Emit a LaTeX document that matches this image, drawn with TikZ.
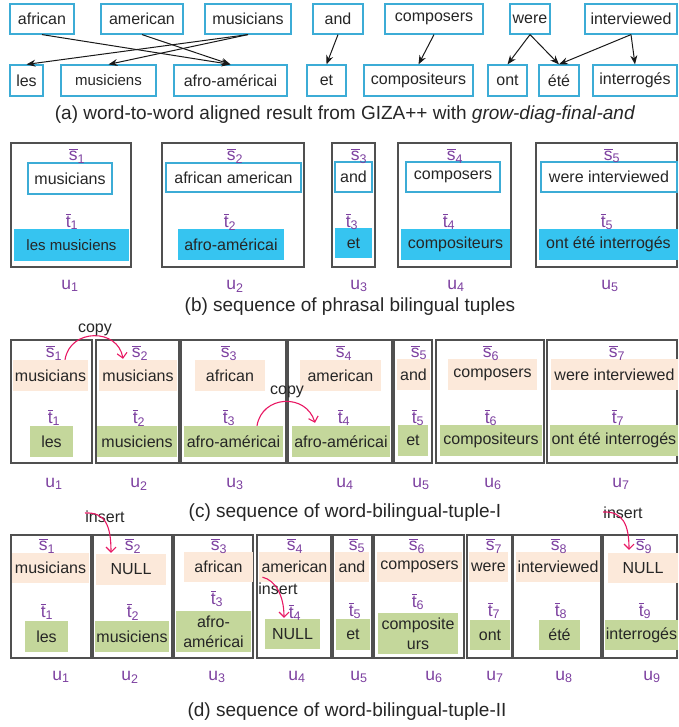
\documentclass[tikz,border=0pt]{standalone}
\usepackage{fontspec}
\setmainfont{Liberation Sans}
\usetikzlibrary{arrows.meta,calc}
\definecolor{bstroke}{RGB}{60,172,214}
\definecolor{cyanfill}{RGB}{54,196,240}
\definecolor{peach}{RGB}{252,233,218}
\definecolor{lgreen}{RGB}{196,215,155}
\definecolor{purp}{RGB}{125,65,160}
\definecolor{pinkr}{RGB}{232,25,100}
\definecolor{outerc}{RGB}{80,80,80}
\newcommand\bx[7]{%
  \pgfmathsetmacro\bw{#4-#2}\pgfmathsetmacro\bh{#5-#3}%
  \node[#6, minimum width=\bw pt, minimum height=\bh pt, inner sep=0pt] (#1) at ({(#2+#4)/2},{(#3+#5)/2}) {#7};}
\newcommand\ovl[2]{$\overline{\mbox{#1}}_{\mbox{\fontsize{12.5}{12.5}\selectfont #2}}$}
\newcommand\usub[1]{$\mbox{u}_{\mbox{\fontsize{12.5}{12.5}\selectfont #1}}$}
\begin{document}
\begin{tikzpicture}[x=1pt,y=-1pt,
  every node/.style={font=\fontsize{16}{17}\selectfont, text=black!85},
  abox/.style={draw=bstroke, line width=1.2pt, fill=white},
  cbox/.style={fill=cyanfill},
  pbox/.style={fill=peach},
  gbox/.style={fill=lgreen},
  obox/.style={draw=outerc, line width=1.1pt},
  lab/.style={text=purp, inner sep=0pt, font=\fontsize{17.5}{17.5}\selectfont},
  captxt/.style={inner sep=0pt, font=\fontsize{19}{20}\selectfont},
  al/.style={draw=black!90, line width=1pt, -{Stealth[length=9pt,width=7pt]}},
  pk/.style={draw=pinkr, line width=1.1pt, -{Straight Barb[length=5pt,width=10pt]}},
  ml/.style={align=center, font=\fontsize{16}{20}\selectfont}
]
\useasboundingbox (0,0) rectangle (678,727);
% ---------------- (a)
\bx{african}{10}{4}{74}{34}{abox}{african}
\bx{american}{101}{4}{183}{34}{abox}{american}
\bx{musicians}{205}{4}{291}{34}{abox}{musicians}
\bx{and}{313}{4}{363}{34}{abox}{and}
\bx{composers}{385}{4}{483}{34}{abox}{composers}
\bx{were}{510}{4}{550}{34}{abox}{were}
\bx{interviewed}{585}{4}{677}{34}{abox}{interviewed}
\bx{les}{10}{65}{43}{96}{abox}{les}
\bx{musiciens}{61}{65}{156}{96}{abox}{\fontsize{15}{16}\selectfont musiciens}
\bx{afro}{174}{65}{287}{96}{abox}{afro-américai}
\bx{et}{307}{65}{346}{96}{abox}{et}
\bx{compositeurs}{364}{65}{473}{96}{abox}{compositeurs}
\bx{ont}{488}{65}{527}{96}{abox}{ont}
\bx{ete}{539}{65}{579}{96}{abox}{été}
\bx{interroges}{593}{65}{677}{96}{abox}{interrogés}
\draw[al] (african.south) -- (afro.north);
\draw[al] (american.south) -- (afro.north);
\draw[al] (musicians.south) -- (les.north);
\draw[al] (musicians.south) -- (musiciens.north);
\draw[al] (and.south) -- (et.north);
\draw[al] (composers.south) -- (compositeurs.north);
\draw[al] (were.south) -- (ont.north);
\draw[al] (were.south) -- (ete.north);
\draw[al] (interviewed.south) -- (ete.north);
\draw[al] (interviewed.south) -- (interroges.north);
\node[captxt] (capa) at (345,115) {(a) word-to-word aligned result from GIZA++ with \textit{grow-diag-final-and}};
% ---------------- (b)
\bx{b1}{11}{143}{131}{267}{obox}{}
\bx{b2}{162}{143}{304}{267}{obox}{}
\bx{b3}{332}{143}{375}{267}{obox}{}
\bx{b4}{398}{143}{511}{267}{obox}{}
\bx{b5}{536}{143}{677}{267}{obox}{}
\bx{bs1}{28}{163}{112}{194}{abox}{musicians}
\bx{bs2}{166}{163}{301}{192}{abox}{african american}
\bx{bs3}{335}{162}{372}{192}{abox}{and}
\bx{bs4}{406}{162}{500}{192}{abox}{composers}
\bx{bs5}{541}{162}{677}{192}{abox}{were interviewed}
\bx{bt1}{14}{229}{129}{261}{cbox}{\fontsize{15}{16}\selectfont les musiciens}
\bx{bt2}{178}{229}{284}{260}{cbox}{afro-américai}
\bx{bt3}{335}{228}{372}{258}{cbox}{et}
\bx{bt4}{401}{229}{510}{260}{cbox}{compositeurs}
\bx{bt5}{539}{229}{678}{260}{cbox}{ont été interrogés}
\node[lab] (bsl1) at (77,156) {\ovl{s}{1}};
\node[lab] (bsl2) at (235,156) {\ovl{s}{2}};
\node[lab] (bsl3) at (359,156) {\ovl{s}{3}};
\node[lab] (bsl4) at (455,156) {\ovl{s}{4}};
\node[lab] (bsl5) at (612,156) {\ovl{s}{5}};
\node[lab] (btl1) at (72,222) {\ovl{t}{1}};
\node[lab] (btl2) at (230,222) {\ovl{t}{2}};
\node[lab] (btl3) at (352,222) {\ovl{t}{3}};
\node[lab] (btl4) at (449,222) {\ovl{t}{4}};
\node[lab] (btl5) at (607,222) {\ovl{t}{5}};
\node[lab] (bu1) at (70,286) {\usub{1}};
\node[lab] (bu2) at (235,286) {\usub{2}};
\node[lab] (bu3) at (359,286) {\usub{3}};
\node[lab] (bu4) at (456,286) {\usub{4}};
\node[lab] (bu5) at (610,286) {\usub{5}};
\node[captxt] (capb) at (350,307) {(b) sequence of phrasal bilingual tuples};
% ---------------- (c)
\bx{c1}{11}{340}{92}{463}{obox}{}
\bx{c2}{96}{340}{179}{463}{obox}{}
\bx{c3}{181}{340}{286}{463}{obox}{}
\bx{c4}{288}{340}{392}{463}{obox}{}
\bx{c5}{394}{340}{432}{463}{obox}{}
\bx{c6}{436}{340}{544}{463}{obox}{}
\bx{c7}{547}{340}{677}{463}{obox}{}
\bx{cs1}{13}{360}{88}{391}{pbox}{musicians}
\bx{cs2}{99}{360}{177}{391}{pbox}{musicians}
\bx{cs3}{195}{360}{265}{391}{pbox}{african}
\bx{cs4}{300}{360}{381}{391}{pbox}{american}
\bx{cs5}{397}{359}{430}{390}{pbox}{and}
\bx{cs6}{448}{359}{537}{390}{pbox}{composers}
\bx{cs7}{551}{359}{678}{390}{pbox}{were interviewed}
\bx{ct1}{30}{426}{73}{457}{gbox}{les}
\bx{ct2}{97}{426}{177}{457}{gbox}{musiciens}
\bx{ct3}{184}{426}{283}{457}{gbox}{afro-américai}
\bx{ct4}{292}{426}{390}{457}{gbox}{afro-américai}
\bx{ct5}{398}{425}{428}{456}{gbox}{et}
\bx{ct6}{440}{425}{542}{456}{gbox}{compositeurs}
\bx{ct7}{550}{425}{678}{456}{gbox}{ont été interrogés}
\node[lab] (csl1) at (54,353) {\ovl{s}{1}};
\node[lab] (csl2) at (140,353) {\ovl{s}{2}};
\node[lab] (csl3) at (229,353) {\ovl{s}{3}};
\node[lab] (csl4) at (344,353) {\ovl{s}{4}};
\node[lab] (csl5) at (419,353) {\ovl{s}{5}};
\node[lab] (csl6) at (491,353) {\ovl{s}{6}};
\node[lab] (csl7) at (617,353) {\ovl{s}{7}};
\node[lab] (ctl1) at (54,418) {\ovl{t}{1}};
\node[lab] (ctl2) at (139,418) {\ovl{t}{2}};
\node[lab] (ctl3) at (229,418) {\ovl{t}{3}};
\node[lab] (ctl4) at (344,418) {\ovl{t}{4}};
\node[lab] (ctl5) at (418,418) {\ovl{t}{5}};
\node[lab] (ctl6) at (491,418) {\ovl{t}{6}};
\node[lab] (ctl7) at (618,418) {\ovl{t}{7}};
\node[lab] (cu1) at (54,484) {\usub{1}};
\node[lab] (cu2) at (139,484) {\usub{2}};
\node[lab] (cu3) at (235,484) {\usub{3}};
\node[lab] (cu4) at (345,484) {\usub{4}};
\node[lab] (cu5) at (421,484) {\usub{5}};
\node[lab] (cu6) at (493,484) {\usub{6}};
\node[lab] (cu7) at (621,484) {\usub{7}};
\draw[pk] ([xshift=14.5pt]cs1.north) .. controls (70,328) and (118,328) .. ([xshift=-15pt,yshift=1pt]cs2.north);
\draw[pk] ([xshift=23.5pt]ct3.north) .. controls (262,395) and (306,393) .. ([xshift=-26pt,yshift=3pt]ct4.north);
\node (copy1) at (95,330) {copy};
\node (copy2) at (287,392) {copy};
\node[captxt] (capc) at (345,513) {(c) sequence of word-bilingual-tuple-I};
% ---------------- (d)
\bx{d1}{11}{535}{91}{658}{obox}{}
\bx{d2}{93}{535}{172}{658}{obox}{}
\bx{d3}{174}{535}{253}{658}{obox}{}
\bx{d4}{257}{535}{331}{658}{obox}{}
\bx{d5}{333}{535}{372}{658}{obox}{}
\bx{d6}{374}{535}{464}{658}{obox}{}
\bx{d7}{467}{535}{512}{658}{obox}{}
\bx{d8}{513}{535}{601}{658}{obox}{}
\bx{d9}{603}{535}{677}{658}{obox}{}
\bx{ds1}{12}{553}{89}{583}{pbox}{musicians}
\bx{ds2}{96}{554}{166}{585}{pbox}{NULL}
\bx{ds3}{184}{552}{253}{582}{pbox}{african}
\bx{ds4}{259}{552}{330}{582}{pbox}{american}
\bx{ds5}{335}{552}{369}{582}{pbox}{and}
\bx{ds6}{377}{552}{462}{582}{pbox}{composers}
\bx{ds7}{469}{552}{508}{582}{pbox}{were}
\bx{ds8}{516}{552}{600}{582}{pbox}{interviewed}
\bx{ds9}{608}{553}{678}{583}{pbox}{NULL}
\bx{dt1}{25}{621}{68}{652}{gbox}{les}
\bx{dt2}{95}{621}{169}{652}{gbox}{musiciens}
\bx{dt3}{176}{611}{251}{652}{gbox,ml}{afro-\\américai}
\bx{dt4}{265}{619}{320}{649}{gbox}{NULL}
\bx{dt5}{336}{619}{370}{650}{gbox}{et}
\bx{dt6}{378}{613}{458}{654}{gbox,ml}{composite\\urs}
\bx{dt7}{470}{620}{510}{650}{gbox}{ont}
\bx{dt8}{539}{620}{580}{650}{gbox}{été}
\bx{dt9}{605}{620}{678}{650}{gbox}{interrogés}
\node[lab] (dsl1) at (47,546) {\ovl{s}{1}};
\node[lab] (dsl2) at (133,546) {\ovl{s}{2}};
\node[lab] (dsl3) at (219,546) {\ovl{s}{3}};
\node[lab] (dsl4) at (295,546) {\ovl{s}{4}};
\node[lab] (dsl5) at (357,546) {\ovl{s}{5}};
\node[lab] (dsl6) at (417,546) {\ovl{s}{6}};
\node[lab] (dsl7) at (494,546) {\ovl{s}{7}};
\node[lab] (dsl8) at (559,546) {\ovl{s}{8}};
\node[lab] (dsl9) at (644,546) {\ovl{s}{9}};
\node[lab] (dtl1) at (47,612) {\ovl{t}{1}};
\node[lab] (dtl2) at (133,612) {\ovl{t}{2}};
\node[lab] (dtl3) at (217,599) {\ovl{t}{3}};
\node[lab] (dtl4) at (295,613) {\ovl{t}{4}};
\node[lab] (dtl5) at (355,611) {\ovl{t}{5}};
\node[lab] (dtl6) at (418,602) {\ovl{t}{6}};
\node[lab] (dtl7) at (494,611) {\ovl{t}{7}};
\node[lab] (dtl8) at (561,611) {\ovl{t}{8}};
\node[lab] (dtl9) at (645,611) {\ovl{t}{9}};
\node[lab] (du1) at (61,677) {\usub{1}};
\node[lab] (du2) at (130,677) {\usub{2}};
\node[lab] (du3) at (217,677) {\usub{3}};
\node[lab] (du4) at (297,677) {\usub{4}};
\node[lab] (du5) at (359,677) {\usub{5}};
\node[lab] (du6) at (434,677) {\usub{6}};
\node[lab] (du7) at (495,677) {\usub{7}};
\node[lab] (du8) at (564,677) {\usub{8}};
\node[lab] (du9) at (652,677) {\usub{9}};
\node (ins1) at (105,517) {insert};
\node (ins2) at (278,589) {insert};
\node (ins3) at (623,513) {insert};
\coordinate (ins1a) at (85,513);
\coordinate (ins3a) at (603,512);
\draw[pk] (ins1a) .. controls (105,512) and (111,525) .. ([xshift=-20pt,yshift=1pt]ds2.north);
\draw[pk] ([xshift=-32pt,yshift=5pt]ds4.south) .. controls (275,580) and (284,595) .. ([xshift=-8.5pt,yshift=1pt]dt4.north);
\draw[pk] (ins3a) .. controls (623,511) and (629,525) .. ([xshift=-14pt,yshift=3pt]ds9.north);
\node[captxt] (capd) at (347,712) {(d) sequence of word-bilingual-tuple-II};
\end{tikzpicture}
\end{document}
